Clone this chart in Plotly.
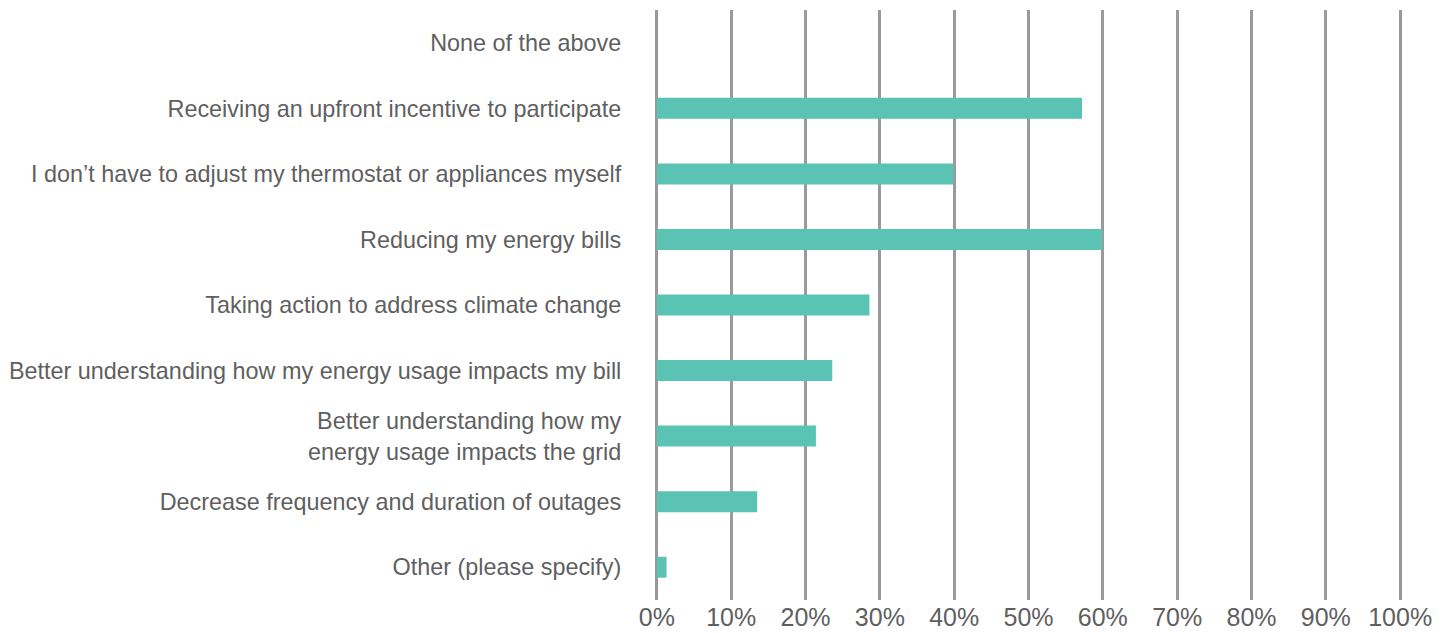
import plotly.graph_objects as go

categories = [
    "None of the above",
    "Receiving an upfront incentive to participate",
    "I don’t have to adjust my thermostat or appliances myself",
    "Reducing my energy bills",
    "Taking action to address climate change",
    "Better understanding how my energy usage impacts my bill",
    "Better understanding how my<br>energy usage impacts the grid",
    "Decrease frequency and duration of outages",
    "Other (please specify)",
]
values = [0.0, 57.2, 39.9, 59.9, 28.6, 23.6, 21.4, 13.5, 1.3]
tick_vals = list(range(0, 101, 10))
tick_text = [f"{v}%" for v in tick_vals]

fig = go.Figure(go.Bar(
    y=categories,
    x=values,
    orientation="h",
    marker=dict(color="#5BC3B3", line=dict(width=0)),
    hoverinfo="x+y",
))

# page body has an 8px margin, so the figure is sized/offset to compensate
fig.update_layout(
    width=1445, height=625,
    margin=dict(l=647, r=51, t=2, b=33),
    paper_bgcolor="white",
    plot_bgcolor="white",
    bargap=0.68,
    showlegend=False,
    font=dict(family="Liberation Sans, Arial, sans-serif", color="#5f5f5f"),
)
fig.update_xaxes(
    range=[-0.25, 100.25],
    tickvals=tick_vals,
    ticktext=tick_text,
    showgrid=True,
    gridcolor="#9a9a9a",
    gridwidth=2.5,
    zeroline=False,
    showline=False,
    tickfont=dict(size=25, color="#5f5f5f"),
    ticks="",
    automargin=False,
    fixedrange=True,
)
fig.update_yaxes(
    categoryorder="array",
    categoryarray=categories[::-1],
    autorange=True,
    showgrid=False,
    zeroline=False,
    showline=False,
    ticks="outside",
    ticklen=28,
    tickcolor="rgba(0,0,0,0)",
    tickfont=dict(size=23.4, color="#5f5f5f"),
    automargin=False,
    fixedrange=True,
)

fig.write_html("out.html")
